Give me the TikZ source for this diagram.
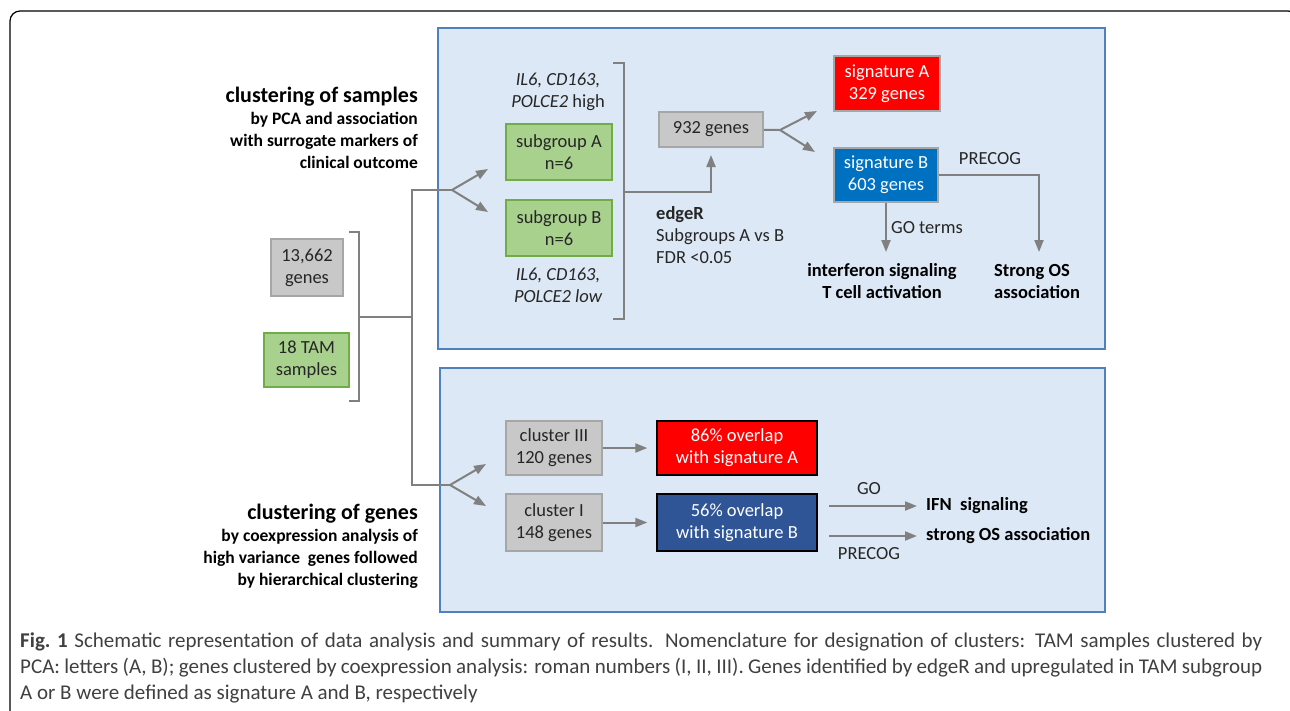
\documentclass[tikz,border=0pt]{standalone}
\usepackage{fontspec}
\setmainfont{Carlito}
\usetikzlibrary{arrows.meta}

\definecolor{panelfill}{RGB}{220,232,245}
\definecolor{panelline}{RGB}{79,129,189}
\definecolor{boxgreen}{RGB}{169,209,142}
\definecolor{linegreen}{RGB}{112,173,71}
\definecolor{boxgray}{RGB}{200,200,200}
\definecolor{linegray}{RGB}{166,166,166}
\definecolor{arrowgray}{RGB}{128,128,128}
\definecolor{sigred}{RGB}{255,0,0}
\definecolor{sigblue}{RGB}{0,112,192}
\definecolor{ovblue}{RGB}{47,85,151}
\definecolor{txtgray}{RGB}{38,38,38}
\definecolor{capgray}{RGB}{64,64,64}

\begin{document}
\begin{tikzpicture}[x=1pt,y=-1pt,
  box/.style={rectangle, line width=1.6pt, align=center, inner sep=0pt, font=\fontsize{18.5}{22}\selectfont},
  greenbox/.style={box, draw=linegreen, fill=boxgreen, text=txtgray},
  graybox/.style={box, draw=linegray, fill=boxgray, text=txtgray},
  sigbox/.style={box, draw=linegray, text=white},
  ovbox/.style={box, draw=black, line width=1.4pt, text=white},
  panel/.style={draw=panelline, fill=panelfill, line width=1.5pt},
  link/.style={draw=arrowgray, line width=2pt},
  brack/.style={draw=arrowgray, line width=1.5pt},
  arr/.style={link, -{Triangle[length=12pt,width=9pt]}},
  lbl/.style={font=\fontsize{18.5}{22}\selectfont, text=txtgray, inner sep=0pt, align=center},
  res/.style={font=\fontsize{18.5}{22}\selectfont\bfseries, inner sep=0pt},
  head/.style={anchor=east, align=right, inner sep=0pt, font=\fontsize{17.5}{22}\selectfont\bfseries}]
\useasboundingbox (0,0) rectangle (1290,710);

% outer frame and the two panels
\draw[line width=1.2pt, rounded corners=10pt] (10,715) -- (10,11) -- (1298,11) -- (1298,40);
\draw[panel] (438,28) rectangle (1105,349);
\draw[panel] (440,368) rectangle (1105,612);

% input data
\node (genes) at (307,267.5) [graybox, minimum width=72pt, minimum height=57pt] {13,662\\genes};
\node (tam) at (306.5,360) [greenbox, minimum width=85pt, minimum height=54pt] {18 TAM\\samples};
\draw[brack] (349,232) -- (359,232) -- (359,401) -- (349,401);

\coordinate (stack) at (359,317);
\coordinate (trunk) at (412,317);
\coordinate (forkS) at (452,190);
\coordinate (forkG) at (450,485);
\draw[link] (stack) -- (trunk);
\draw[link] (forkS) -| (trunk) |- (forkG);

% headings
\node (headS) [head] at (418,128) {{\fontsize{22}{24}\selectfont clustering of samples}\\
  by PCA and association\\ with surrogate markers of\\ clinical outcome};
\node (headG) [head] at (418,546) {{\fontsize{22}{24}\selectfont clustering of genes}\\
  by coexpression analysis of\\ high variance\ \ genes followed\\ by hierarchical clustering};

% clustering of samples
\node (subA) at (559,152) [greenbox, minimum width=106pt, minimum height=56pt] {subgroup A\\n=6};
\node (subB) at (559,228) [greenbox, minimum width=106pt, minimum height=56pt] {subgroup B\\n=6};
\node (high) at (558,92) [lbl] {{\itshape IL6, CD163,}\\{\itshape POLCE2} high};
\node (low) at (558,285) [lbl] {{\itshape IL6, CD163,}\\{\itshape POLCE2 low}};
\coordinate (tipA) at (488,169);
\coordinate (tipB) at (488,212);
\draw[arr] (forkS) -- (tipA);
\draw[arr] (forkS) -- (tipB);
\draw[brack] (613,63) -- (624,63) -- (624,319) -- (613,319);

\node (g932) at (711,129.5) [graybox, minimum width=104pt, minimum height=35pt] {932 genes};
\coordinate (deg) at (624,192);
\coordinate (degtip) at (711,155);
\draw[arr] (deg) -| (degtip);
\node (edger) [lbl, anchor=west, align=left] at (656,235) {{\bfseries edgeR}\\Subgroups A vs B\\FDR <0.05};

\node (sigA) at (887,83.5) [sigbox, fill=sigred, minimum width=106pt, minimum height=55pt] {signature A\\329 genes};
\node (sigB) at (886,175) [sigbox, fill=sigblue, minimum width=104pt, minimum height=54pt] {signature B\\603 genes};
\coordinate (forkD) at (780,130);
\coordinate (tipSA) at (817,111);
\coordinate (tipSB) at (815,152);
\draw[link] (g932) -- (forkD);
\draw[arr] (forkD) -- (tipSA);
\draw[arr] (forkD) -- (tipSB);

\coordinate (osTip) at (1039,252);
\coordinate (goTip) at (sigB.south |- osTip);
\draw[arr] (sigB.east) -| (osTip);
\draw[arr] (sigB.south) -- (goTip);
\node (precogA) [lbl] at (990,159) {PRECOG};
\node (goterms) [lbl] at (927,228) {GO terms};
\node (ifnA) [res, align=center] at (882,281) {interferon signaling\\T cell activation};
\node (osA) [res, align=left, anchor=west] at (994,281) {Strong OS\\association};

% clustering of genes
\node (cl3) at (554,448) [graybox, minimum width=96pt, minimum height=54pt] {cluster III\\120 genes};
\node (cl1) at (554,522.5) [graybox, minimum width=96pt, minimum height=57pt] {cluster I\\148 genes};
\coordinate (tipC3) at (486,464);
\coordinate (tipC1) at (486,506);
\draw[arr] (forkG) -- (tipC3);
\draw[arr] (forkG) -- (tipC1);

\node (ov86) at (737,448) [ovbox, fill=sigred, minimum width=160pt, minimum height=54pt] {86\% overlap\\with signature A};
\node (ov56) at (737,522.5) [ovbox, fill=ovblue, minimum width=160pt, minimum height=57pt] {56\% overlap\\with signature B};
\draw[arr, shorten >=9pt] (cl3) -- (ov86);
\draw[arr, shorten >=9pt] (cl1) -- (ov56);

\node (ifnB) [res, anchor=west] at (926,506) {IFN\ \ signaling};
\node (osB) [res, anchor=west] at (926,536) {strong OS association};
\coordinate (goStart) at (829,506);
\coordinate (pcStart) at (829,536);
\draw[arr, shorten >=9pt] (goStart) -- (ifnB);
\draw[arr, shorten >=9pt] (pcStart) -- (osB);
\node (goB) [lbl] at (869,489) {GO};
\node (precogB) [lbl] at (869,554) {PRECOG};

% caption
\node (caption) [anchor=north west, inner sep=0pt, text width=1242pt, align=justify,
  text=capgray, font=\fontsize{21}{26}\selectfont] at (20,633)
  {{\bfseries Fig.\ 1} Schematic representation of data analysis and summary of results. Nomenclature for designation of clusters: TAM samples clustered by\linebreak
  PCA: letters (A, B); genes clustered by coexpression analysis: roman numbers (I, II, III). Genes identified by edgeR and upregulated in TAM subgroup\linebreak
  A or B were defined as signature A and B, respectively};
\end{tikzpicture}
\end{document}
